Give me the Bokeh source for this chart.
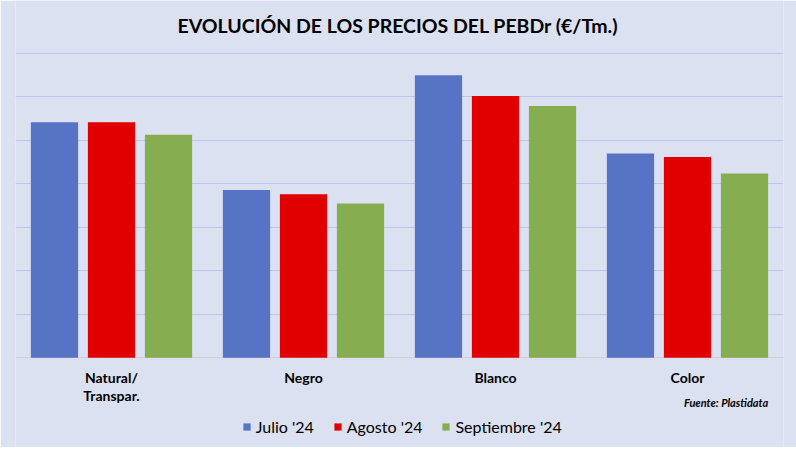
from bokeh.plotting import figure
from bokeh.models import ColumnDataSource, FactorRange, FixedTicker, Grid, Legend, LegendItem
from bokeh.core.properties import value
from bokeh.transform import dodge
from bokeh.embed import file_html
from bokeh.resources import INLINE

categories = ["Natural/\nTranspar.", "Negro", "Blanco", "Color"]
julio = [1084, 772, 1300, 940]
agosto = [1084, 752, 1204, 924]
septiembre = [1026, 710, 1158, 848]
series_names = ["Julio '24", "Agosto '24", "Septiembre '24"]
y_ticks = [0, 200, 400, 600, 800, 1000, 1200, 1400]
title_text = "EVOLUCIÓN DE LOS PRECIOS DEL PEBDr (€/Tm.)"
source_text = "Fuente: Plastidata"

BG = "#dce1f2"
COLORS = ["#5773c4", "#e00000", "#86ad50"]
FONT = "Lato"

W, H = 796, 447
FRAME_L, FRAME_R = 15, 783
TOP_PX, BASE_PX = 53.0, 357.3
k = (y_ticks[-1] - y_ticks[0]) / (BASE_PX - TOP_PX)   # data units per pixel
y_end = y_ticks[-1] + TOP_PX * k
y_start = -(H - BASE_PX) * k
cat_w = (FRAME_R - FRAME_L) / len(categories)

def ypx(py):
    return (BASE_PX - py) * k

def xpx(px):
    return (px - FRAME_L) / cat_w

src = ColumnDataSource(dict(cat=categories, j=julio, a=agosto, s=septiembre))

p = figure(width=W, height=H, output_backend="svg", toolbar_location=None,
           x_range=FactorRange(*categories, range_padding=0, factor_padding=0),
           y_range=(y_start, y_end),
           x_axis_location=None, y_axis_location=None,
           min_border_left=FRAME_L, min_border_right=W - FRAME_R,
           min_border_top=0, min_border_bottom=0)
p.background_fill_color = BG
p.border_fill_color = BG
p.outline_line_color = None

p.xgrid.grid_line_color = None
p.ygrid.ticker = FixedTicker(ticks=y_ticks[1:])
p.ygrid.grid_line_color = "#b9c6ea"
p.ygrid.grid_line_width = 1
base = Grid(dimension=1, ticker=FixedTicker(ticks=y_ticks[:1]),
            grid_line_color="#cdd0dc", grid_line_width=1)
p.add_layout(base)

renderers = []
for col, off, color in zip(["j", "a", "s"], [-0.297, 0.0, 0.297], COLORS):
    r = p.vbar(x=dodge("cat", off, range=p.x_range), top=col, width=0.246, source=src,
               fill_color=color, line_color=None)
    renderers.append(r)

# category labels
p.text(x="cat", y=0, text="cat", source=src, y_offset=11,
       text_font=value(FONT), text_font_style="bold", text_font_size="14px",
       text_align="center", text_baseline="top", text_line_height=1.05,
       text_color="#000000")

# title
p.text(x=[xpx(397.5)], y=[ypx(25)], text=[title_text],
       text_font=value(FONT), text_font_style="bold", text_font_size="19.5px",
       text_align="center", text_baseline="middle", text_color="#000000")

# source
p.text(x=[xpx(767.7)], y=[ypx(401.7)], text=[source_text],
       text_font=value(FONT), text_font_style="bold italic", text_font_size="11px",
       text_align="right", text_baseline="middle", text_color="#000000")

legend = Legend(items=[LegendItem(label=n, renderers=[r]) for n, r in zip(series_names, renderers)],
                orientation="horizontal", location=(241.7 - FRAME_L, H - 436),
                glyph_width=9, glyph_height=9, label_standoff=5, spacing=19,
                padding=0, margin=0, border_line_color=None, background_fill_alpha=0,
                label_text_font=FONT, label_text_font_size="16px", label_height=18,
                label_text_color="#000000")
p.add_layout(legend)

open("out.html", "w").write(file_html(p, INLINE))
